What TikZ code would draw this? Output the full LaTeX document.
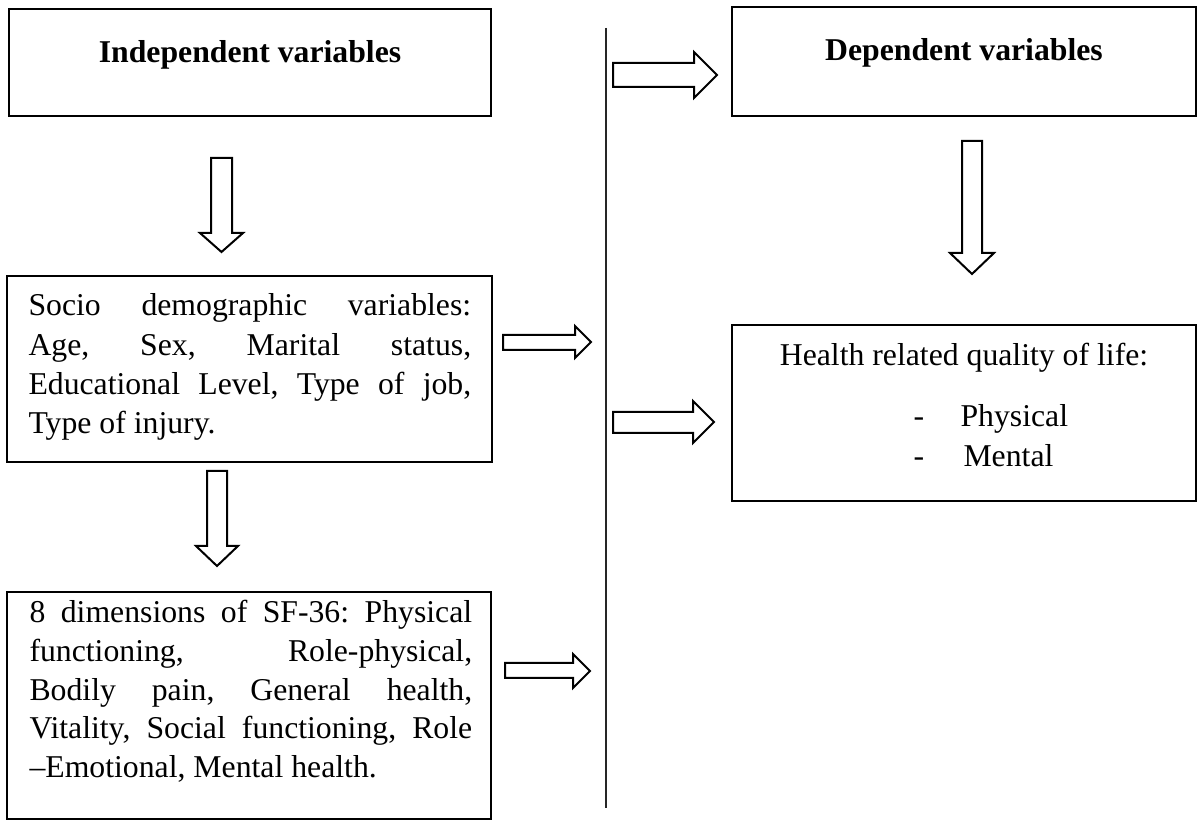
\documentclass[tikz,border=0pt]{standalone}
\usepackage{fontspec}
\setmainfont{Liberation Serif}
\usetikzlibrary{fit}
\tikzset{
  bx/.style={draw, line width=0.8pt, inner sep=0pt, fit=#1},
  blk/.style={draw, line width=0.75pt, line join=miter, fill=white},
  vline/.style={draw, line width=0.45pt, black!85},
  lbl/.style={inner sep=0pt, font=\fontsize{11.9}{14.6}\selectfont},
  hd/.style={inner sep=0pt, font=\fontsize{11.9}{14.6}\selectfont\bfseries, anchor=base},
}
\newcommand\jpara[3]{\vtop{\hsize=#1\fontsize{11.9}{14.6}\selectfont\parindent0pt\baselineskip=#2 #3}}
\newcommand\jl[1]{\hbox to\hsize{#1}}
\begin{document}
\begin{tikzpicture}[x=0.375pt,y=-0.375pt]
\useasboundingbox[fill=white] (0,0) rectangle (1202,823);
% box corners
\coordinate (i1) at (9,9);    \coordinate (i2) at (491,116);
\coordinate (d1) at (732,7);  \coordinate (d2) at (1196,116);
\coordinate (s1) at (7,276);  \coordinate (s2) at (492,462);
\coordinate (e1) at (7,592);  \coordinate (e2) at (491,819);
\coordinate (h1) at (732,325);\coordinate (h2) at (1196,501);
\node[bx=(i1)(i2)] (indep) {};
\node[bx=(d1)(d2)] (dep) {};
\node[bx=(s1)(s2)] (socio) {};
\node[bx=(e1)(e2)] (sf) {};
\node[bx=(h1)(h2)] (hrq) {};
% headings
\node[hd] (indept) at (250,63) {Independent variables};
\node[hd] (dept) at (964,61) {Dependent variables};
% socio text
\node[lbl, anchor=base west] (sociot) at (28,316) {\jpara{166pt}{14.65pt}{%
\jl{Socio\hfill demographic\hfill variables:}
\jl{Age,\hfill Sex,\hfill Marital\hfill status,}
\jl{Educational\hfill Level,\hfill Type\hfill of\hfill job,}
\hbox{Type of injury.}}};
% SF-36 text
\node[lbl, anchor=base west] (sft) at (29,623) {\jpara{166pt}{14.45pt}{%
\jl{8\hfill dimensions\hfill of\hfill SF-36:\hfill Physical}
\jl{functioning,\hfill Role-physical,}
\jl{Bodily\hfill pain,\hfill General\hfill health,}
\jl{Vitality,\hfill Social\hfill functioning,\hfill Role}
\hbox{--Emotional, Mental health.}}};
% HRQoL text
\node[lbl, anchor=base] (hrqt) at (964,366) {Health related quality of life:};
\node[lbl, anchor=base west] (dash1) at (913,427) {-};
\node[lbl, anchor=base west] (phys) at (960,427) {Physical};
\node[lbl, anchor=base west] (dash2) at (913,467) {-};
\node[lbl, anchor=base west] (ment) at (963,467) {Mental};
% vertical divider
\coordinate (vt) at (606,28);
\coordinate (vb) at (606,808);
\draw[vline] (vt) -- (vb);
% right block arrows
\draw[blk] (613,63) -- (694,63) -- (694,52) -- (717,75) -- (694,98) -- (694,87) -- (613,87) -- cycle;
\draw[blk] (503,335) -- (575,335) -- (575,326) -- (591,342) -- (575,358) -- (575,350) -- (503,350) -- cycle;
\draw[blk] (613,412) -- (693,412) -- (693,401) -- (714,422) -- (693,443) -- (693,433) -- (613,433) -- cycle;
\draw[blk] (505,663) -- (573,663) -- (573,654) -- (590,671) -- (573,688) -- (573,678) -- (505,678) -- cycle;
% down block arrows
\draw[blk] (211,158) -- (211,233) -- (200,233) -- (221.5,252) -- (243,233) -- (232,233) -- (232,158) -- cycle;
\draw[blk] (207,471) -- (207,546) -- (196,546) -- (217,566) -- (238,546) -- (227,546) -- (227,471) -- cycle;
\draw[blk] (962,141) -- (962,253) -- (950,253) -- (972,274) -- (994,253) -- (982,253) -- (982,141) -- cycle;
\end{tikzpicture}
\end{document}
